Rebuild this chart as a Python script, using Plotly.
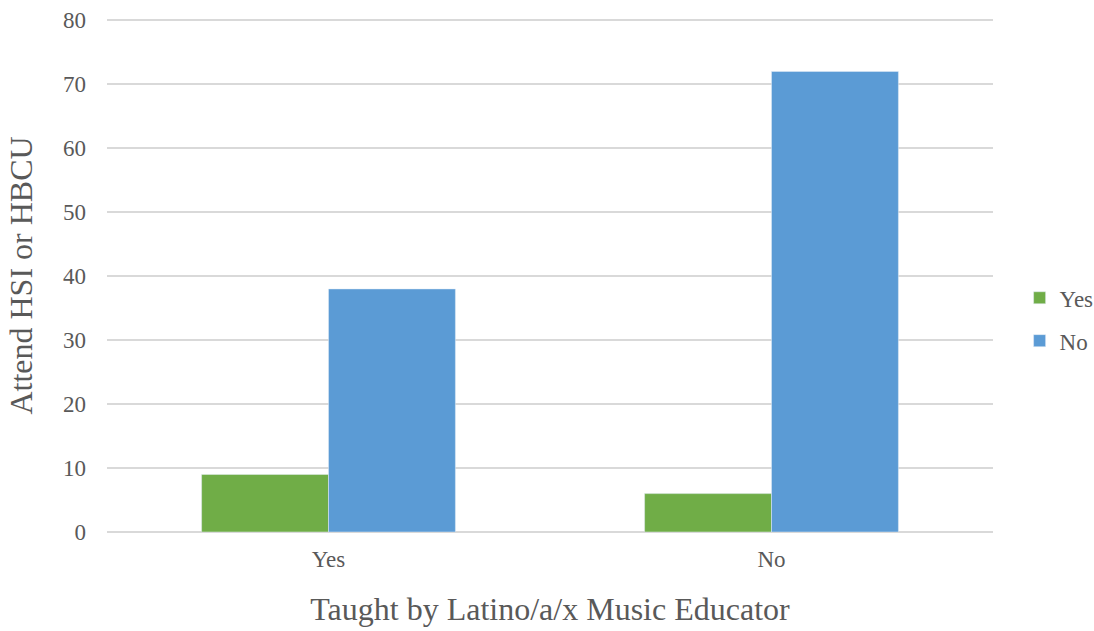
import plotly.graph_objects as go

categories = ["Yes", "No"]
series_yes = [9, 6]
series_no = [38, 72]
y_ticks = [0, 10, 20, 30, 40, 50, 60, 70, 80]

FONT = "Liberation Serif"
fig = go.Figure()
fig.add_trace(go.Bar(x=categories, y=series_yes, name="Yes", marker_color="#70AD47",
                     legendgroup="a"))
fig.add_trace(go.Bar(x=categories, y=series_no, name="No", marker_color="#5B9BD5",
                     legendgroup="b"))

fig.update_layout(
    width=1094, height=631,
    margin=dict(l=107, r=101, t=19, b=99),
    paper_bgcolor="white", plot_bgcolor="white",
    barmode="group", bargap=0.427, bargroupgap=0,
    font=dict(family=FONT, color="#595959", size=23),
    legend=dict(xref="container", yref="container", x=0.932, y=0.494,
                xanchor="left", yanchor="middle",
                font=dict(size=23, color="#595959"), traceorder="grouped",
                tracegroupgap=10, itemwidth=30),
    xaxis=dict(title=dict(text="Taught by Latino/a/x Music Educator", font=dict(size=32), standoff=26),
               showline=False, ticks="", tickfont=dict(size=23), ticklabelstandoff=11,
               automargin=False),
    yaxis=dict(title=dict(text="Attend HSI or HBCU", font=dict(size=32), standoff=20),
               range=[0, 80.2], tickvals=y_ticks, showgrid=True, gridcolor="#d9d9d9",
               gridwidth=1.5, zeroline=True, zerolinecolor="#d9d9d9", zerolinewidth=1.5,
               ticks="", tickfont=dict(size=23), ticklabelstandoff=20, automargin=False),
)
fig.write_html("out.html")
